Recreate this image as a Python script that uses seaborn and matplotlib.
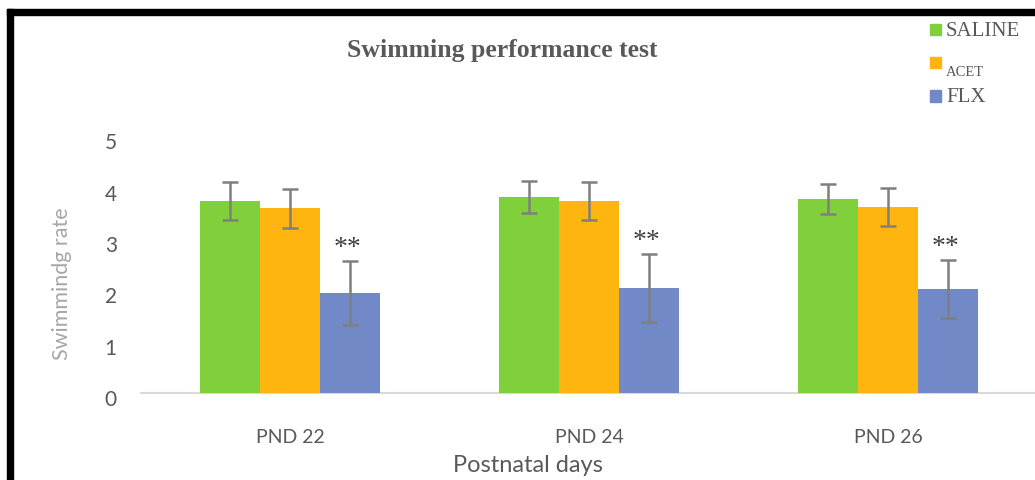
import matplotlib
matplotlib.use("Agg")
import matplotlib.pyplot as plt
from matplotlib.patches import Rectangle
from matplotlib.transforms import ScaledTranslation
import seaborn as sns
import pandas as pd

# ---- data ----
days = ["PND 22", "PND 24", "PND 26"]
groups = ["SALINE", "ACET", "FLX"]
saline = [3.74, 3.82, 3.78]
acet = [3.60, 3.74, 3.63]
flx = [1.95, 2.05, 2.03]
saline_err = [0.37, 0.31, 0.30]
acet_err = [0.38, 0.37, 0.37]
flx_err = [0.62, 0.66, 0.56]
y_ticks = [0, 1, 2, 3, 4, 5]
colors = ["#7FD03B", "#FFB50F", "#7189C7"]

values = {"SALINE": saline, "ACET": acet, "FLX": flx}
errors = {"SALINE": saline_err, "ACET": acet_err, "FLX": flx_err}
rows = []
for g in groups:
    for d, v in zip(days, values[g]):
        rows.append({"day": d, "group": g, "value": v})
df = pd.DataFrame(rows)

sns.set_style("white")
plt.rcParams["font.family"] = ["Lato", "DejaVu Sans"]

W, H = 1035, 480
fig = plt.figure(figsize=(W / 100, H / 100), dpi=100)
ax = fig.add_axes([140.5 / W, 1 - 393 / H, 897 / W, 256.5 / H])

sns.barplot(data=df, x="day", y="value", hue="group", hue_order=groups,
            order=days, palette=colors, width=0.605, errorbar=None,
            saturation=1, legend=False, linewidth=0, ax=ax)

# error bars + significance marks
for g, cont in zip(groups, ax.containers):
    xs = [b.get_x() + b.get_width() / 2 for b in cont]
    ys = [b.get_height() for b in cont]
    ax.errorbar(xs, ys, yerr=errors[g], fmt="none", ecolor="#7f7f7f",
                elinewidth=1.8, capsize=6, capthick=1.8, zorder=5)
    if g == "FLX":
        for x, y, e in zip(xs, ys, errors[g]):
            ax.text(x - 0.01, y + e + 0.24, "**", ha="center", va="center",
                    fontsize=20, color="#404040", family="Liberation Serif")

ax.set_xlim(-0.5, 2.5)
ax.set_ylim(0, 5)
ax.set_yticks(y_ticks)
ax.set_yticklabels([str(t) for t in y_ticks])
for s in ax.spines.values():
    s.set_visible(False)
ax.axhline(0, color="#d9d9d9", lw=1.5, clip_on=False, zorder=0)
ax.tick_params(axis="both", length=0, labelcolor="#595959")
ax.tick_params(axis="y", pad=17, labelsize=15)
ax.tick_params(axis="x", pad=26, labelsize=14)
for lab in ax.get_yticklabels():
    lab.set_transform(lab.get_transform() + ScaledTranslation(0, -5 / 100, fig.dpi_scale_trans))

ax.set_xlabel("Postnatal days", fontsize=17, color="#595959")
ax.xaxis.set_label_coords((528 - 140.5) / 897, (393 - 465) / 256.5)
ax.xaxis.label.set_va("center")
ax.set_ylabel("Swimmindg rate", fontsize=15.5, color="#a6a6a6")
ax.yaxis.set_label_coords((62 - 140.5) / 897, (393 - 284) / 256.5)
ax.yaxis.label.set_va("center")

# title
fig.text(502 / W, 1 - 51 / H, "Swimming performance test", ha="center", va="center",
         fontsize=18.5, fontweight="bold", color="#595959", family="Liberation Serif")

# legend (manual, as in the original layout)
leg_y = [29.5, 62.5, 96]
txt_y = [31, 72, 97]
txt_size = [15, 10.5, 15]
for g, c, ly, ty, ts in zip(groups, colors, leg_y, txt_y, txt_size):
    fig.add_artist(Rectangle((930 / W, 1 - (ly + 5.5) / H), 11 / W, 11 / H,
                             transform=fig.transFigure, color=c))
    fig.text(946 / W, 1 - ty / H, g, ha="left", va="center", fontsize=ts,
             color="#595959", family="Liberation Serif")

# frame lines
fig.add_artist(Rectangle((7 / W, 1 - 15 / H), 1 - 7 / W, 6 / H,
                         transform=fig.transFigure, color="black"))
fig.add_artist(Rectangle((7 / W, 0), 6 / W, 1 - 9 / H,
                         transform=fig.transFigure, color="black"))

fig.savefig("out.png", dpi=100)
